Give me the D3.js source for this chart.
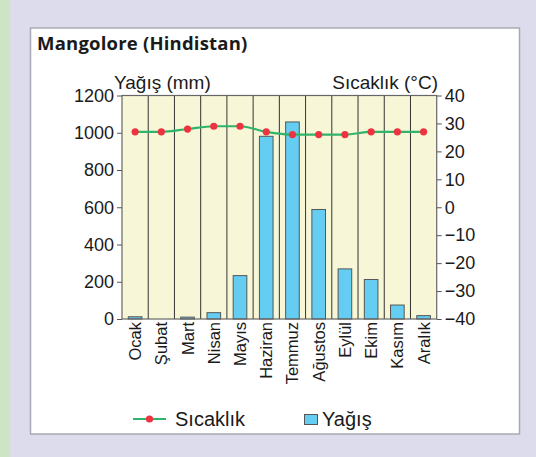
<!DOCTYPE html>
<html lang="tr">
<head>
<meta charset="utf-8">
<title>Mangolore (Hindistan)</title>
<script src="https://d3js.org/d3.v7.min.js"></script>
<style>
    body{ margin: 0; background-color: #dcdcec; }
    svg{ display: block; }
    text{ font-family: "Liberation Sans", Arial, sans-serif; fill: #1a1a1a; }
    .title{ font-family: "Open Sans", sans-serif; font-weight: 700; }
</style>
</head>
<body>
<div id="chart"></div>
<script>

// monthly data
var months = ["Ocak", "Şubat", "Mart", "Nisan", "Mayıs", "Haziran", "Temmuz", "Ağustos", "Eylül", "Ekim", "Kasım", "Aralık"]
var rain = [12, 0, 10, 34, 233, 981, 1058, 588, 269, 212, 75, 18]
var temp = [27, 27, 28, 29, 29, 27, 26, 26, 26, 27, 27, 27]
var rainTicks = [0, 200, 400, 600, 800, 1000, 1200]
var tempTicks = [-40, -30, -20, -10, 0, 10, 20, 30, 40]

var width = 536, height = 457
var plot = {left: 122, right: 436.7, top: 95.5, bottom: 319}

var svg = d3.select("#chart").append("svg")
    .attr("width", width)
    .attr("height", height)

// page backdrop
svg.append("rect").attr("width", width).attr("height", height).attr("fill", "#dcdcec")
svg.append("rect").attr("width", 10).attr("height", height).attr("fill", "#cde5c4")
svg.append("rect")
    .attr("x", 30.5).attr("y", 28).attr("width", 489).attr("height", 406)
    .attr("fill", "white").attr("stroke", "#a9a9b3").attr("stroke-width", 1.5)

svg.append("text").attr("class", "title")
    .attr("x", 37).attr("y", 49.5)
    .style("font-size", "18.5px")
    .style("letter-spacing", "0.2px")
    .text("Mangolore (Hindistan)")

var x = d3.scaleBand().domain(months).range([plot.left, plot.right])
var yRain = d3.scaleLinear().domain([0, 1200]).range([plot.bottom, plot.top])
var yTemp = d3.scaleLinear().domain([-40, 40]).range([plot.bottom, plot.top])

// plot background
svg.append("rect")
    .attr("x", plot.left).attr("y", plot.top)
    .attr("width", plot.right - plot.left).attr("height", plot.bottom - plot.top)
    .attr("fill", "#f7f7d8")

// month separators
svg.append("g").selectAll("line")
    .data(months.slice(1))
    .join("line")
    .attr("x1", d => x(d)).attr("x2", d => x(d))
    .attr("y1", plot.top).attr("y2", plot.bottom)
    .attr("stroke", "#333").attr("stroke-width", 1)

// bars
var bw = x.bandwidth() * 0.52
svg.append("g").selectAll("rect")
    .data(months)
    .join("rect")
    .attr("x", d => x(d) + (x.bandwidth() - bw) / 2)
    .attr("width", bw)
    .attr("y", (d, i) => yRain(rain[i]))
    .attr("height", (d, i) => yRain(0) - yRain(rain[i]))
    .attr("fill", "#66cdf2")
    .attr("stroke", "#555")
    .attr("stroke-width", 1)
    .style("display", (d, i) => rain[i] > 0 ? null : "none")

// frame
svg.append("rect")
    .attr("x", plot.left).attr("y", plot.top)
    .attr("width", plot.right - plot.left).attr("height", plot.bottom - plot.top)
    .attr("fill", "none").attr("stroke", "#666").attr("stroke-width", 1.2)

// temperature line
var line = d3.line()
    .x((d, i) => x(months[i]) + x.bandwidth() / 2)
    .y(d => yTemp(d))
    .curve(d3.curveMonotoneX)

svg.append("path")
    .datum(temp)
    .attr("d", line)
    .attr("fill", "none")
    .attr("stroke", "#30b46a")
    .attr("stroke-width", 2.2)

svg.append("g").selectAll("circle")
    .data(temp)
    .join("circle")
    .attr("cx", (d, i) => x(months[i]) + x.bandwidth() / 2)
    .attr("cy", d => yTemp(d))
    .attr("r", 3.6)
    .attr("fill", "#ee3340")

// axes
var leftAxis = svg.append("g")
    .attr("transform", "translate(" + plot.left + ",0)")
    .call(d3.axisLeft(yRain).tickValues(rainTicks).tickSize(5).tickPadding(3).tickFormat(d3.format("d")))
leftAxis.select(".domain").remove()
leftAxis.selectAll("line").attr("stroke", "#555")
leftAxis.selectAll("text").style("font-size", "18px").attr("fill", "#1a1a1a").attr("font-family", null)

var rightAxis = svg.append("g")
    .attr("transform", "translate(" + plot.right + ",0)")
    .call(d3.axisRight(yTemp).tickValues(tempTicks).tickSize(5).tickPadding(3)
        .tickFormat(d => d < 0 ? "\u2212" + Math.abs(d) : d))
rightAxis.select(".domain").remove()
rightAxis.selectAll("line").attr("stroke", "#555")
rightAxis.selectAll("text").style("font-size", "18px").attr("fill", "#1a1a1a").attr("font-family", null)

// month labels
svg.append("g").selectAll("text")
    .data(months)
    .join("text")
    .attr("transform", d => "translate(" + (x(d) + x.bandwidth() / 2 + 6) + "," + (plot.bottom + 3) + ") rotate(-90)")
    .attr("text-anchor", "end")
    .style("font-size", "16.5px")
    .text(d => d)

// axis titles
svg.append("text")
    .attr("x", 114).attr("y", 89)
    .style("font-size", "19px")
    .text("Yağış (mm)")
svg.append("text")
    .attr("x", 438).attr("y", 89)
    .attr("text-anchor", "end")
    .style("font-size", "19px")
    .text("Sıcaklık (°C)")

// legend
var lg = svg.append("g")
lg.append("line")
    .attr("x1", 133).attr("x2", 166).attr("y1", 419).attr("y2", 419)
    .attr("stroke", "#30b46a").attr("stroke-width", 2.2)
lg.append("circle").attr("cx", 149.5).attr("cy", 419).attr("r", 3.6).attr("fill", "#ee3340")
lg.append("text").attr("x", 175).attr("y", 426).style("font-size", "20px").text("Sıcaklık")
lg.append("rect")
    .attr("x", 304.5).attr("y", 414.5).attr("width", 13).attr("height", 10)
    .attr("fill", "#66cdf2").attr("stroke", "#555")
lg.append("text").attr("x", 322).attr("y", 426).style("font-size", "20px").text("Yağış")

</script>
</body>
</html>
